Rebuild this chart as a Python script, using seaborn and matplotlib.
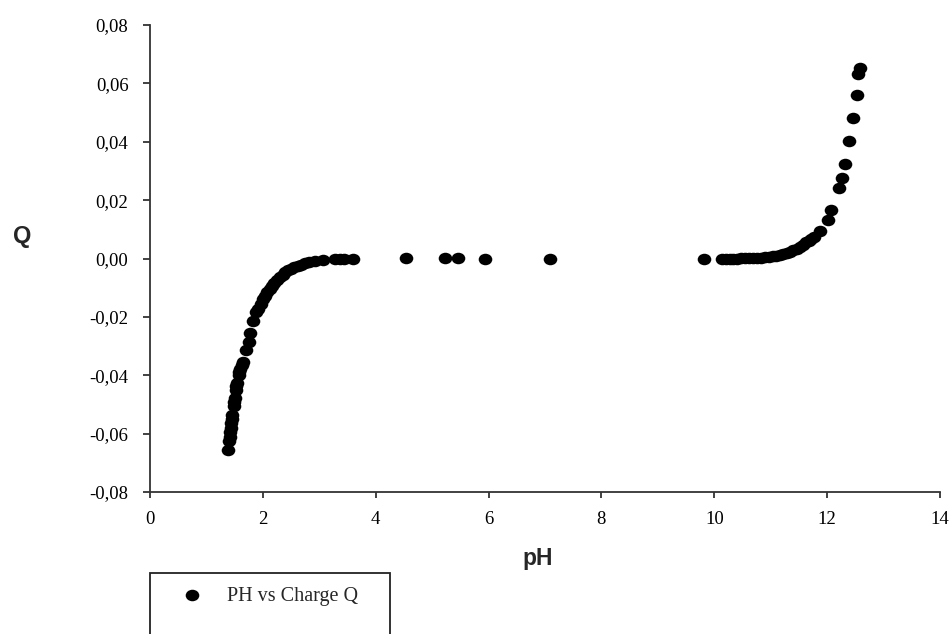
import numpy as np
import pandas as pd
import seaborn as sns
import matplotlib
matplotlib.use("Agg")
import matplotlib.pyplot as plt
from matplotlib.path import Path
from matplotlib.transforms import Affine2D
from matplotlib.patches import Rectangle
from matplotlib.ticker import FixedLocator, FuncFormatter

# ---- data ----
ph_values = [
    1.39, 1.40, 1.41, 1.42, 1.43, 1.44, 1.45, 1.46, 1.48, 1.49, 1.50, 1.52, 1.53,
    1.55, 1.57, 1.58, 1.60, 1.63, 1.65,
    1.71, 1.75, 1.78, 1.83, 1.88, 1.92, 1.96, 2.00, 2.04, 2.08, 2.12, 2.16, 2.20,
    2.25, 2.30, 2.35, 2.40, 2.45, 2.50, 2.56, 2.62, 2.68, 2.75, 2.82, 2.92, 3.07,
    3.28, 3.37, 3.43, 3.60, 4.54, 5.23, 5.45, 5.94, 7.09, 9.81,
    10.13, 10.20, 10.27, 10.34, 10.41, 10.48, 10.55, 10.62, 10.69, 10.76, 10.83,
    10.90, 10.97, 11.04, 11.10, 11.16, 11.22, 11.28, 11.34, 11.40, 11.46, 11.52,
    11.58, 11.63, 11.68, 11.72, 11.76, 11.87, 12.02, 12.07, 12.21, 12.26, 12.32,
    12.39, 12.46, 12.53, 12.55, 12.58,
]
q_values = [
    -0.0656, -0.0625, -0.0610, -0.0595, -0.0580, -0.0565, -0.0550, -0.0535, -0.0505,
    -0.0492, -0.0478, -0.0450, -0.0438, -0.0425, -0.0400, -0.0390, -0.0378, -0.0365,
    -0.0356,
    -0.0315, -0.0285, -0.0255, -0.0215, -0.0185, -0.0172, -0.0156, -0.0140, -0.0127,
    -0.0115, -0.0103, -0.0093, -0.0084, -0.0074, -0.0063, -0.0055, -0.0047, -0.0040,
    -0.0035, -0.0030, -0.0025, -0.0021, -0.0016, -0.0012, -0.0008, -0.0004,
    -0.0002, -0.0001, 0.0000, 0.0000, 0.0003, 0.0001, 0.0001, 0.0000, -0.0003, -0.0002,
    0.0000, 0.0000, 0.0000, 0.0000, 0.0000, 0.0001, 0.0001, 0.0001, 0.0002, 0.0002,
    0.0003, 0.0004, 0.0005, 0.0007, 0.0009, 0.0012, 0.0015, 0.0019, 0.0023, 0.0028,
    0.0034, 0.0040, 0.0047, 0.0055, 0.0060, 0.0068, 0.0075, 0.0093, 0.0133, 0.0167,
    0.0243, 0.0275, 0.0323, 0.0401, 0.0481, 0.0561, 0.0633, 0.0651,
]
x_ticks = [0, 2, 4, 6, 8, 10, 12, 14]
y_ticks = [-0.08, -0.06, -0.04, -0.02, 0.00, 0.02, 0.04, 0.06, 0.08]
series_label = "PH vs Charge Q"
x_label = "pH"
y_label = "Q"

df = pd.DataFrame({"pH": ph_values, "Q": q_values})

sns.set_style("ticks")
plt.rcParams["font.family"] = ["Liberation Serif", "DejaVu Serif"]

W, H = 952, 634
fig = plt.figure(figsize=(W / 100, H / 100), dpi=100)
ax = fig.add_axes([150 / W, 1 - 492 / H, 790 / W, 467 / H])

# slightly wide elliptical marker as in the reference
ell = Affine2D().scale(1.18, 1.0).transform_path(Path.unit_circle())

sns.scatterplot(data=df, x="pH", y="Q", ax=ax, marker=ell, s=96, color="black",
                edgecolor="black", linewidth=0, label=series_label, legend=False)

ax.set_xlim(0, 14)
ax.set_ylim(-0.08, 0.08)
ax.xaxis.set_major_locator(FixedLocator(x_ticks))
ax.yaxis.set_major_locator(FixedLocator(y_ticks))
ax.xaxis.set_major_formatter(FuncFormatter(lambda v, p: f"{v:g}"))
ax.yaxis.set_major_formatter(FuncFormatter(lambda v, p: f"{v:.2f}".replace(".", ",").replace("-0,00", "0,00")))

for s in ["top", "right"]:
    ax.spines[s].set_visible(False)
for s in ["left", "bottom"]:
    ax.spines[s].set_linewidth(1.3)
    ax.spines[s].set_color("#333333")

ax.tick_params(axis="y", direction="out", length=5, width=1.3, color="#333333",
               pad=10.5, labelsize=13.5, labelcolor="black")
ax.tick_params(axis="x", direction="out", length=4, width=1.3, color="#333333",
               pad=9.5, labelsize=13.5, labelcolor="black")

ax.set_xlabel(x_label, fontfamily="Liberation Sans", fontweight="bold", fontsize=16.5)
ax.set_ylabel(y_label, fontfamily="Liberation Sans", fontweight="bold", fontsize=17,
              rotation=0)
ax.xaxis.label.set_va("center")
ax.yaxis.label.set_va("center")
ax.yaxis.label.set_ha("center")
ax.xaxis.set_label_coords((538 - 150) / 790, (492 - 558) / 467)
ax.yaxis.set_label_coords((22 - 150) / 790, (492 - 237) / 467)

# legend (frame drawn separately because it runs off the bottom of the figure)
handles, labels = ax.get_legend_handles_labels()
leg = fig.legend(handles, labels, loc="center left",
                 bbox_to_anchor=(171.5 / W, 1 - 596 / H), frameon=False,
                 fontsize=14.5, handlelength=2.0, handletextpad=0.75,
                 borderpad=0, borderaxespad=0, scatterpoints=1)
fig.add_artist(Rectangle((150 / W, -0.1), 240 / W, (1 - 573 / H) + 0.1,
                         transform=fig.transFigure, fill=False,
                         edgecolor="#222222", linewidth=1.3))

fig.savefig("out.png", dpi=100)
